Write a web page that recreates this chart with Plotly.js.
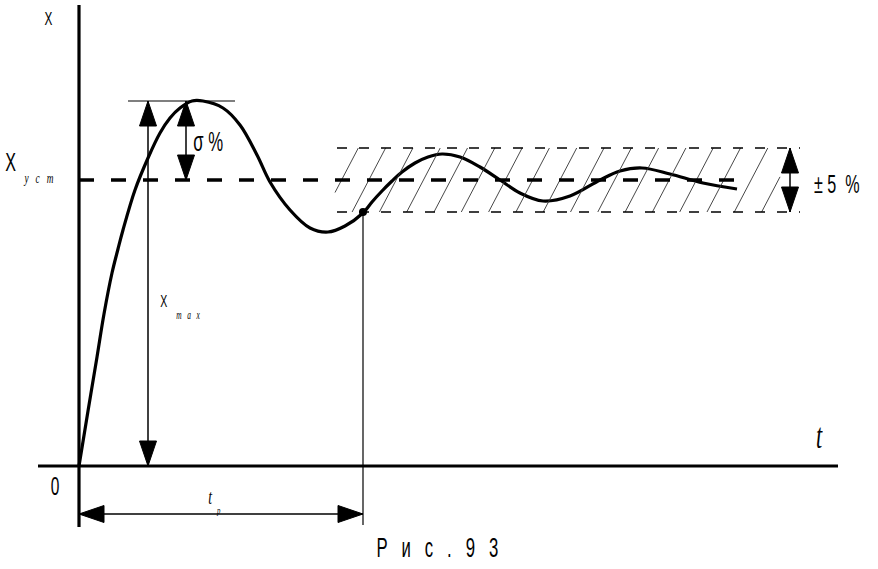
<!DOCTYPE html>
<html>
<head>
<meta charset="utf-8">
<script src="https://cdn.plot.ly/plotly-3.0.1.min.js"></script>
<style>html,body{margin:0;padding:0;background:#fff;}#chart{width:878px;height:569px;}
.annotation-text{opacity:0.99;}</style>
</head>
<body>
<div id="chart"></div>
<script>
// ---- data (t in units of t_p, X in units of X_уст) ----
var curveT = [0, 0.0317, 0.0634, 0.0880, 0.1162, 0.1373, 0.1549, 0.1972, 0.2430, 0.2852, 0.3204, 0.3556, 0.3979, 0.4366, 0.5070, 0.5669, 0.6268, 0.6725, 0.7430, 0.8134, 0.8768, 0.9366, 1.0000, 1.0317, 1.0669, 1.1021, 1.1373, 1.1831, 1.2289, 1.2782, 1.3415, 1.4120, 1.4824, 1.5528, 1.6338, 1.7289, 1.8345, 1.9049, 1.9824, 2.0810, 2.1972, 2.3169];
var curveX = [0, 0.1923, 0.3811, 0.5315, 0.6748, 0.7587, 0.8252, 0.9650, 1.0769, 1.1643, 1.2168, 1.2517, 1.2762, 1.2762, 1.2517, 1.1923, 1.0874, 0.9930, 0.8951, 0.8322, 0.8182, 0.8392, 0.8846, 0.9231, 0.9615, 0.9965, 1.0280, 1.0594, 1.0804, 1.0909, 1.0804, 1.0455, 1.0000, 0.9545, 0.9266, 0.9441, 1.0000, 1.0315, 1.0420, 1.0210, 0.9895, 0.9685];
var X_UST = 1.0;
var X_MAX = 1.2762;
var T_P = 1.0;
var BAND = [0.8881, 1.1119];
var NB = '\u00A0';
var labels = {
  yaxis: "X", xaxis: "t", origin: "0",
  sigma: "σ" + NB + "%",
  band: "±" + NB + "5" + NB + NB + "%",
  ust: "у" + NB+NB+NB + "с" + NB+NB+NB + "т",
  max: "m" + NB+NB+NB + "a" + NB+NB+NB + "x",
  tp: "t", tpSub: "р",
  caption: "Р" + NB+NB+NB + "и" + NB+NB+NB + "с" + NB+NB+NB + "." + NB+NB+NB + "9" + NB+NB+NB + "3"
};

// ---- geometry helpers (pixel <-> data) ----
var SX = 284, SY = 286;          // px per unit
var OX = 79, OY = 466;           // origin in px
function tx(px){ return (px - OX) / SX; }
function ty(py){ return (OY - py) / SY; }
var FONT = '"Liberation Sans", Arial, sans-serif';

var shapes = [];
function line(x0,y0,x1,y1,w,dash){
  shapes.push({type:'line', xref:'x', yref:'y', x0:x0,y0:y0,x1:x1,y1:y1,
    line:{color:'#000', width:w, dash:dash||'solid'}, layer:'above'});
}
function head(x,y,dir){ // tip at (x,y)
  var L=25, H=8.5, p;
  if(dir==='up')    p=[[x,y],[x-H/SX,y-L/SY],[x+H/SX,y-L/SY]];
  if(dir==='down')  p=[[x,y],[x-H/SX,y+L/SY],[x+H/SX,y+L/SY]];
  if(dir==='left')  p=[[x,y],[x+L/SX,y+H/SY],[x+L/SX,y-H/SY]];
  if(dir==='right') p=[[x,y],[x-L/SX,y+H/SY],[x-L/SX,y-H/SY]];
  shapes.push({type:'path', xref:'x', yref:'y',
    path:'M'+p[0][0]+','+p[0][1]+' L'+p[1][0]+','+p[1][1]+' L'+p[2][0]+','+p[2][1]+' Z',
    fillcolor:'#000', line:{color:'#000', width:1}, layer:'above'});
}

// hatching in the ±5% band
(function(){
  var hLeft = tx(335), hRight = tx(780), dxh = 33.5/SX, step = 27.3/SX;
  for (var hx = tx(358.3) - 2*step; hx < hRight + dxh; hx += step){
    var xb = hx - dxh, yb = BAND[0], xt = hx, yt = BAND[1];
    var sl = (yt-yb)/(xt-xb);
    if (xb < hLeft){ yb = yb + sl*(hLeft-xb); xb = hLeft; }
    if (xt > hRight){ yt = yt - sl*(xt-hRight); xt = hRight; }
    if (xt <= xb) continue;
    shapes.push({type:'line', xref:'x', yref:'y', x0:xb,y0:yb,x1:xt,y1:yt,
      line:{color:'#333', width:0.9}, layer:'above'});
  }
})();

// axes
line(0, ty(527), 0, ty(5), 3.2);
line(tx(38), 0, tx(838), 0, 3.2);
// steady-state level
line(0, X_UST, tx(742), X_UST, 3.5, '15px,17px');
// band limits
line(tx(337), BAND[1], tx(800), BAND[1], 1.5, '10px,12px');
line(tx(337), BAND[0], tx(800), BAND[0], 1.5, '10px,12px');
// X_max arrow
var xa = tx(148);
line(tx(128), X_MAX, tx(235), X_MAX, 1.2);
line(xa, 0, xa, X_MAX, 1.5);
head(xa, X_MAX, 'up'); head(xa, 0, 'down');
// sigma arrow
var xs = tx(186);
line(xs, X_UST, xs, X_MAX, 1.5);
head(xs, X_MAX, 'up'); head(xs, X_UST, 'down');
// t_p arrow
var yp = ty(514);
line(T_P, ty(525), T_P, BAND[0], 1.2);
line(0, yp, T_P, yp, 1.5);
head(0, yp, 'left'); head(T_P, yp, 'right');
// ±5% arrow
var xb5 = tx(790);
line(xb5, BAND[0], xb5, BAND[1], 1.5);
head(xb5, BAND[1], 'up'); head(xb5, BAND[0], 'down');

var traces = [
  {x: curveT, y: curveX, mode:'lines', line:{color:'#000', width:3.2, shape:'spline', smoothing:1}, hoverinfo:'skip'},
  {x: [T_P], y: [BAND[0]], mode:'markers', marker:{color:'#000', size:8}, hoverinfo:'skip'}
];

function ann(text, px, py, size, italic){
  return {text:text, x:tx(px), y:ty(py), xref:'x', yref:'y', showarrow:false,
    xanchor:'center', yanchor:'middle',
    font:{family: italic ? '"Liberation Serif", serif' : FONT, size:size, color:'#000', style: italic ? 'italic' : 'normal'}};
}
var annotations = [
  ann(labels.yaxis, 48, 18, 19),
  ann(labels.yaxis, 10, 162, 26),
  ann(labels.ust, 38, 178, 15, true),
  ann(labels.sigma, 208, 142, 27),
  ann(labels.yaxis, 163, 301, 17),
  ann(labels.max, 188, 315, 12, true),
  ann(labels.band, 837, 184, 26),
  ann(labels.xaxis, 819, 436, 36, true),
  ann(labels.origin, 55, 486, 25),
  ann(labels.tp, 210, 496, 22, true),
  ann(labels.tpSub, 218, 510, 11, true),
  ann(labels.caption, 437, 548, 27)
];

var layout = {
  width:878, height:569, margin:{l:0,r:0,t:0,b:0},
  paper_bgcolor:'#fff', plot_bgcolor:'#fff', showlegend:false,
  xaxis:{range:[tx(0), tx(878)], visible:false, fixedrange:true},
  yaxis:{range:[ty(569), ty(0)], visible:false, fixedrange:true},
  shapes:shapes, annotations:annotations
};
Plotly.newPlot('chart', traces, layout, {staticPlot:true, displayModeBar:false}).then(function(gd){
  var texts = gd.querySelectorAll('.annotation-text');
  texts.forEach(function(t){
    var bb = t.getBBox();
    var cx = bb.x + bb.width/2;
    var prev = t.getAttribute('transform') || '';
    t.setAttribute('transform', prev + ' translate(' + cx + ',0) scale(0.62,1) translate(' + (-cx) + ',0)');
  });
});
</script>
</body>
</html>
